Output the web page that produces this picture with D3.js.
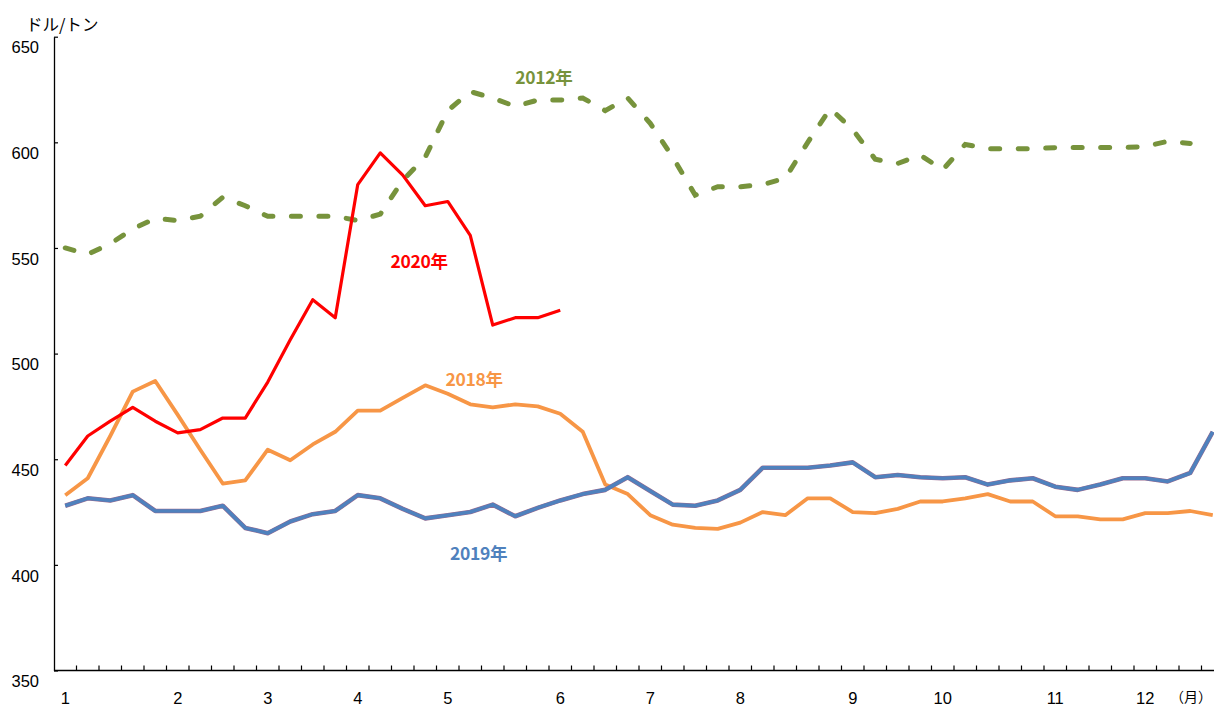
<!DOCTYPE html>
<html>
<head>
<meta charset="utf-8">
<script src="https://cdn.jsdelivr.net/npm/d3@7"></script>
<style>
html,body{margin:0;padding:0;background:#fff;}
svg{display:block;}
</style>
</head>
<body>
<svg id="chart" width="1214" height="706"></svg>
<script>
// ---- data ----
const weeks = d3.range(1, 53);
const monthLabels = ["1","2","3","4","5","6","7","8","9","10","11","12"];
const monthStartWeek = [1,6,10,14,18,23,27,31,36,40,45,49];
const yTicks = [350,400,450,500,550,600,650];

const s2012 = [550,547,552,559,564,563,565,574,570,565,565,565,565,563,566,582,593,615,624,621,617,620,620,621,615,621,609,593,575,579,579,580,583,600,616,606,592,590,594,587,599,597,597,597,597.5,597.5,597.5,597.5,598,600.5,599.5];
const s2018 = [433,441,461,482,487,471,454.5,438.5,440,454.5,449.5,457,463,473,473,479,485,481,476,474.5,476,475,471.5,463,438,433.5,423.5,419,417.5,417,420,425,423.5,431.5,431.5,425,424.5,426.5,430,430,431.5,433.5,430,430,423,423,421.5,421.5,424.5,424.5,425.5,423.5];
const s2019 = [428,431.5,430.5,433,425.5,425.5,425.5,428,417.5,415,420.5,424,425.5,433,431.5,426.5,422,423.5,425,428.5,423,427,430.5,433.5,435.5,441.5,435,428.5,428,430.5,435.5,446,446,446,447,448.5,441.5,442.5,441.5,441,441.5,438,440,441,437,435.5,438,441,441,439.5,443.5,463];
const s2020 = [447,461,468,474.5,468,462.5,464,469.5,469.5,486.5,506.5,525.5,517,580,595,584.5,570,572,556,513.5,517,517,520.5];

const seriesLabels = [
  {name:"2012年", color:"#77933C", week:21.0, value:630.5},
  {name:"2020年", color:"#FF0000", week:15.45, value:543.4},
  {name:"2018年", color:"#F79646", week:17.9, value:487.5},
  {name:"2019年", color:"#4F81BD", week:18.1, value:405.1}
];

// ---- layout ----
const svg = d3.select("#chart");
const x = d3.scaleBand().domain(weeks).range([54, 54 + 22.5*52]).paddingInner(0).paddingOuter(0);
const cx = d => x(d) + x.bandwidth()/2;
const y = d3.scaleLinear().domain([350, 650]).range([670.5, 36.7]);
const xLin = d3.scaleLinear().domain([1, 52]).range([cx(1), cx(52)]);

const tickFont = "'Liberation Sans', Arial, sans-serif";
const cjkFont = "'Noto Sans CJK JP', sans-serif";

// y axis
const yAxis = d3.axisLeft(y).tickValues(yTicks).tickSizeInner(-4).tickSizeOuter(0).tickPadding(15);
const gy = svg.append("g").attr("transform", "translate(54,0)").call(yAxis);
gy.select(".domain").attr("stroke", "#000").attr("stroke-width", 1.3);
gy.selectAll(".tick line").attr("stroke", "#000").attr("stroke-width", 1.2);
gy.selectAll(".tick text").attr("font-family", tickFont).attr("font-size", 16.5)
  .attr("fill", "#000").attr("dy", "0.32em").attr("y", 11);

// x axis line
svg.append("line").attr("x1", 54).attr("x2", 1214).attr("y1", y(350)).attr("y2", y(350))
  .attr("stroke", "#000").attr("stroke-width", 1.3);
// x ticks at band boundaries
svg.append("g").selectAll("line").data(weeks.slice(1)).join("line")
  .attr("x1", d => x(d)).attr("x2", d => x(d))
  .attr("y1", y(350)).attr("y2", y(350) - 5)
  .attr("stroke", "#000").attr("stroke-width", 1.2);
// month labels
svg.append("g").selectAll("text").data(monthLabels).join("text")
  .attr("x", (d,i) => cx(monthStartWeek[i]))
  .attr("y", 698).attr("dy", "0.35em")
  .attr("text-anchor", "middle")
  .attr("font-family", tickFont).attr("font-size", 16.5)
  .text(d => d);
svg.append("text").attr("x", 1170).attr("y", 697).attr("dy", "0.35em")
  .attr("font-family", cjkFont).attr("font-size", 14).text("（月）");

// unit label
svg.append("text").attr("x", 26).attr("y", 25).attr("dy", "0.35em")
  .attr("font-family", cjkFont).attr("font-size", 16.5).text("ドル/トン");

// lines
const line = d3.line().defined(d => d != null).x((d,i) => cx(weeks[i])).y(d => y(d));

svg.append("path").datum(s2018).attr("d", line).attr("fill", "none")
  .attr("stroke", "#F79646").attr("stroke-width", 3.8).attr("stroke-linejoin", "round");

svg.append("path").datum(s2019).attr("d", line).attr("fill", "none")
  .attr("stroke", "#9a6a8e").attr("stroke-width", 4.6).attr("stroke-linejoin", "round");
svg.append("path").datum(s2019).attr("d", line).attr("fill", "none")
  .attr("stroke", "#4F81BD").attr("stroke-width", 3.6).attr("stroke-linejoin", "round");

svg.append("path").datum(s2012).attr("d", line).attr("fill", "none")
  .attr("stroke", "#77933C").attr("stroke-width", 5).attr("stroke-linecap", "round")
  .attr("stroke-dasharray", "9 18.5");

svg.append("path").datum(s2020).attr("d", line).attr("fill", "none")
  .attr("stroke", "#FF0000").attr("stroke-width", 3.2).attr("stroke-linejoin", "round");

// series labels
svg.append("g").selectAll("text").data(seriesLabels).join("text")
  .attr("x", d => xLin(d.week)).attr("y", d => y(d.value)).attr("dy", "0.35em")
  .attr("font-family", cjkFont).attr("font-weight", "bold").attr("font-size", 17.5)
  .attr("fill", d => d.color).attr("letter-spacing", "-0.3")
  .text(d => d.name);
</script>
</body>
</html>
